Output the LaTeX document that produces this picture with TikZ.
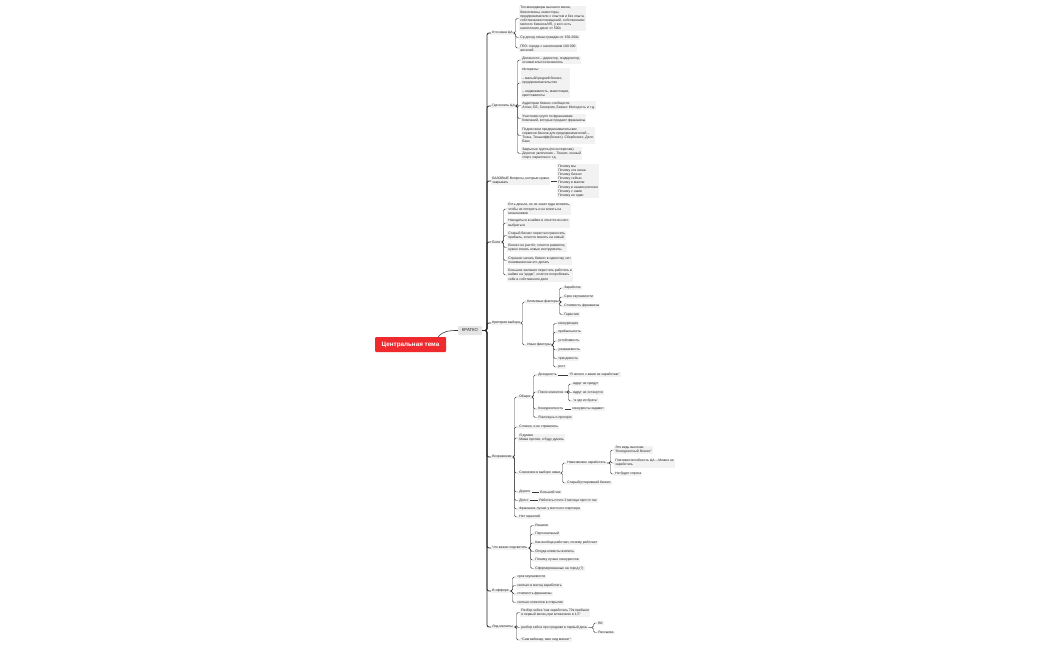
\documentclass[tikz,border=0pt]{standalone}
\usepackage{fontspec}
\setmainfont{Liberation Sans}
\usetikzlibrary{calc}
\definecolor{topicred}{HTML}{EE2A2E}
\definecolor{leafbg}{HTML}{F2F2F2}
\definecolor{lnk}{HTML}{3A3A3A}
\newcommand\lk[2]{\draw[conn] (#1.east) -- ([xshift=-3.5pt]#2.west |- #1.east) |- (#2.west);}
\newcommand\lks[2]{\draw[conn] (#1.east) -- (#1.east -| #2.west);}
\newcommand\lkt[2]{\draw[trunk] (#1.east) -- ([xshift=-4pt]#2.west |- #1.east) |- (#2.west);}
\begin{document}
\begin{tikzpicture}[x=1pt,y=-1pt,
 every node/.style={font=\fontsize{3.4}{4.2}\selectfont, inner xsep=1.1pt, inner ysep=0.8pt, align=left, anchor=west, fill=leafbg, text=black!85},
 conn/.style={draw=lnk, line width=0.45pt, rounded corners=1.5pt},
 trunk/.style={draw=black!85, line width=0.8pt, rounded corners=2pt}]
\path[fill=white] (0,0) rectangle (1050,650);
\useasboundingbox (0,0) rectangle (1050,650);

% central
\node[fill=topicred, text=white, font=\bfseries\fontsize{6.3}{7}\selectfont, minimum width=71pt, minimum height=15pt, anchor=center, align=center, rounded corners=1pt] (ct) at (410.5,344.5) {Центральная тема};
\node[anchor=center, fill=black!10, minimum width=24pt, minimum height=9pt, font=\fontsize{4.3}{5}\selectfont, rounded corners=1pt] (kr) at (470,330.5) {КРАТКО};
\draw[conn, line width=0.6pt] ([xshift=-8pt]ct.north east) to[out=50,in=180] (kr.west);

% branches
\node (b1) at (491,33) {Кто наша ЦА};
\node (b2) at (491,106) {Где искать ЦА};
\node (b3) at (491,181) {БАЗОВЫЕ Вопросы, которые нужно\\закрывать};
\node (b4) at (491,242) {Боли};
\node (b5) at (491,323) {Критерии выбора};
\node (b6) at (491,457) {Возражения};
\node (b7) at (491,548) {Что важно подсветить};
\node (b8) at (491,591) {В оффере};
\node (b9) at (491,627) {Лид-магниты};
\foreach \b in {b1,b2,b3,b4,b5,b6,b7,b8,b9} {\lkt{kr}{\b}}

% b1
\node (a11) at (519,18.5) {Топ-менеджеры высшего звена,\\бизнесмены, инвесторы,\\предприниматели с опытом и без опыта,\\собственники помещений, собственники\\мелкого бизнеса/ИП, у кого есть\\накопления денег от 500к};
\node (a12) at (519,37.5) {Ср доход семьи граждан от 150-200к};
\node (a13) at (519,48) {ГЕО: города с населением 100 000\\жителей};
\foreach \c in {a11,a12,a13} {\lk{b1}{\c}}

% b2
\node (a21) at (521,60) {Должности – директор, гендиректор,\\основатель/сооснователь};
\node (a22) at (521,83) {Интересы:\\[4.5pt]– малый/средний бизнес,\\предпринимательство\\[4.5pt]– недвижимость, инвестиции,\\криптовалюты};
\node (a23) at (521,105.5) {Аудитории бизнес-сообществ:\\Атлас, ББ, Синергия, Бизнес Молодость и т.д.};
\node (a24) at (521,118.5) {Участники групп по франшизам.\\Компаний, которые продают франшизы};
\node (a25) at (521,135.5) {Подписчики предпринимательских\\сервисов банков для предпринимателей –\\Точка, Тинькофф(бизнес), Сбербизнес, Дело\\Банк};
\node (a26) at (521,153.5) {Закрытые группы(по интересам)\\Дорогие увлечения – Теннис, конный\\спорт, параплан и т.д.};
\foreach \c in {a21,a22,a23,a24,a25,a26} {\lk{b2}{\c}}

% b3
\node (a31) at (557,181) {Почему мы\\Почему эта ниша\\Почему бизнес\\Почему сейчас\\Почему в малом\\Почему в нашем регионе\\Почему с нами\\Почему не один};
\lks{b3}{a31}

% b4
\node (a41) at (507,209) {Есть деньги, но не знает куда вложить,\\чтобы не потерять и не влезть на\\мошенников};
\node (a42) at (507,223) {Находиться в найме и хочется из него\\выбраться};
\node (a43) at (507,235.5) {Старый бизнес перестал приносить\\прибыль, хочется менять на новый};
\node (a44) at (507,247.5) {Бизнес не растёт, хочется развития,\\нужно искать новые инструменты};
\node (a45) at (507,260.5) {Страшно начать бизнес в одиночку, нет\\понимания как это делать};
\node (a46) at (507,275) {Большое желание перестать работать в\\найме на “дядю”, хочется попробовать\\себя в собственном деле};
\foreach \c in {a41,a42,a43,a44,a45,a46} {\lk{b4}{\c}}

% b5
\node (a51) at (526,302) {Ключевые факторы};
\node (a52) at (526,345) {Иные факторы};
\lk{b5}{a51} \lk{b5}{a52}
\node (a511) at (563,288) {Заработок};
\node (a512) at (563,297) {Срок окупаемости};
\node (a513) at (563,306) {Стоимость франшизы};
\node (a514) at (563,314.5) {Гарантии};
\foreach \c in {a511,a512,a513,a514} {\lk{a51}{\c}}
\node (a521) at (557,323.5) {конкуренция};
\node (a522) at (557,332) {прибыльность};
\node (a523) at (557,341) {устойчивость};
\node (a524) at (557,350) {узнаваемость};
\node (a525) at (557,358.5) {трендовость};
\node (a526) at (557,367) {рост};
\foreach \c in {a521,a522,a523,a524,a525,a526} {\lk{a52}{\c}}

% b6
\node (a61) at (518,397) {Общие};
\node (a62) at (518,427) {Сложно, я не справлюсь};
\node (a63) at (518,438) {Я думаю\\Мама против, я буду думать};
\node (a64) at (518,473) {Сомнения в выборе ниши};
\node (a65) at (518,492) {Дорого};
\node (a66) at (518,500.5) {Долго};
\node (a67) at (518,509) {Франшиза лучше у местного партнера};
\node (a68) at (518,517) {Нет гарантий};
\foreach \c in {a61,a62,a63,a64,a65,a66,a67,a68} {\lk{b6}{\c}}

\node (a611) at (537,375) {Доходность};
\node (a612) at (537,392) {Поиск клиентов};
\node (a613) at (537,409) {Конкурентность};
\node (a614) at (537,417.5) {Я вложусь и прогорю};
\foreach \c in {a611,a612,a613,a614} {\lk{a61}{\c}}
\node (a6111) at (568,375) {“Я ничего с вами не заработаю”};
\lks{a611}{a6111}
\node (a6121) at (572,384) {вдруг не придут};
\node (a6122) at (572,392.5) {вдруг не останутся};
\node (a6123) at (572,401) {“а где их брать”};
\foreach \c in {a6121,a6122,a6123} {\lk{a612}{\c}}
\node (a6131) at (571,409) {конкуренты задавят};
\lks{a613}{a6131}

\node (a641) at (566,463) {Невозможно заработать};
\node (a642) at (566,483) {Старый/устаревший бизнес};
\lk{a64}{a641} \lk{a64}{a642}
\node (a6411) at (614,450) {Это ведь высокая\\“Конкурентный бизнес”};
\node (a6412) at (614,463) {Платежеспособность ЦА – Можно не\\заработать};
\node (a6413) at (614,474) {Не будет спроса};
\foreach \c in {a6411,a6412,a6413} {\lk{a641}{\c}}

\node (a651) at (539,492) {Большой чек};
\lks{a65}{a651}
\node (a661) at (538,500.5) {Работать почти 2 месяца просто так};
\lks{a66}{a661}

% b7
\node (a71) at (534,525.5) {Решили};
\node (a72) at (534,534) {Персональный};
\node (a73) at (534,543) {Как вообще работает, почему работает};
\node (a74) at (534,551.5) {Откуда клиенты взялись};
\node (a75) at (534,560) {Почему лучше конкурентов};
\node (a76) at (534,568.5) {Сформированные на город (?)};
\foreach \c in {a71,a72,a73,a74,a75,a76} {\lk{b7}{\c}}

% b8
\node (a81) at (516,577) {срок окупаемости};
\node (a82) at (516,585.5) {сколько в месяц заработать};
\node (a83) at (516,594) {стоимость франшизы};
\node (a84) at (516,602.5) {сколько клиентов в открытие};
\foreach \c in {a81,a82,a83,a84} {\lk{b8}{\c}}

% b9
\node (a91) at (520,612.5) {Разбор кейса “как заработать 70к прибыли\\в первый месяц при вложениях в 1,5”};
\node (a92) at (520,627.5) {разбор кейса про продажи в первый день};
\node (a93) at (520,640) {“Сам вебинар, мин лид магнит”};
\foreach \c in {a91,a92,a93} {\lk{b9}{\c}}
\node (a921) at (597,623) {ВК};
\node (a922) at (597,632.5) {Рассылка};
\lk{a92}{a921} \lk{a92}{a922}
\end{tikzpicture}
\end{document}
